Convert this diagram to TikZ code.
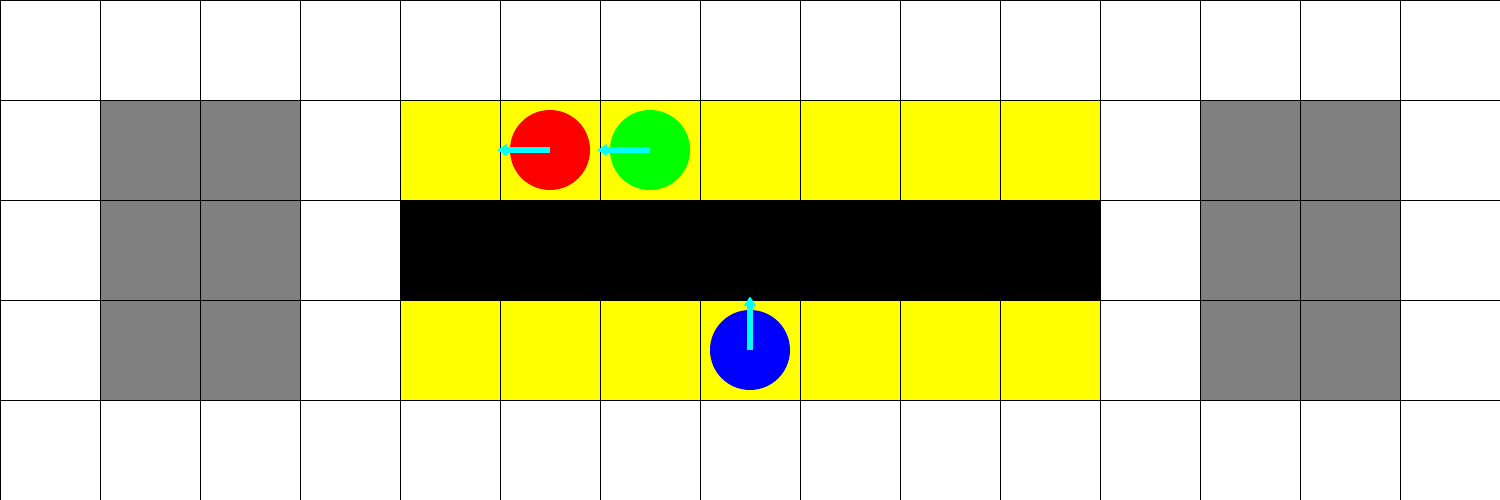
\documentclass[tikz,border=0pt]{standalone}
\usetikzlibrary{arrows.meta}
\definecolor{cellgray}{HTML}{808080}
\definecolor{pureyellow}{HTML}{FFFF00}
\definecolor{purered}{HTML}{FF0000}
\definecolor{puregreen}{HTML}{00FF00}
\definecolor{pureblue}{HTML}{0000FF}
\definecolor{purecyan}{HTML}{00FFFF}
\tikzset{
  agent/.style={circle, minimum size=0.8cm, inner sep=0pt, draw=none},
  heading/.style={draw=purecyan, line width=1.7pt, -{Latex[round,length=0.11cm,width=0.15cm]}},
  gridline/.style={draw=black, line width=0.2pt}
}
\begin{document}
\begin{tikzpicture}
\useasboundingbox (0,0) rectangle (15,5);
\fill[white] (0,0) rectangle (15,5);
% gray obstacles
\fill[cellgray] (1,1) rectangle (3,4);
\fill[cellgray] (12,1) rectangle (14,4);
% yellow lanes
\fill[pureyellow] (4,3) rectangle (11,4);
\fill[pureyellow] (4,1) rectangle (11,2);
% grid
\draw[gridline, step=1cm] (0,0) grid (15,5);
\draw[gridline] (0,0) rectangle (15,5);
% black wall
\fill[black] (4,2) rectangle (11,3);
% agents
\node[agent, fill=purered] (r) at (5.5,3.5) {};
\node[agent, fill=puregreen] (g) at (6.5,3.5) {};
\node[agent, fill=pureblue] (b) at (7.5,1.5) {};
\coordinate (rt) at (4.98,3.5);
\coordinate (gt) at (5.98,3.5);
\coordinate (bt) at (7.5,2.03);
\draw[heading] (r.center) -- (rt);
\draw[heading] (g.center) -- (gt);
\draw[heading] (b.center) -- (bt);
\end{tikzpicture}
\end{document}
